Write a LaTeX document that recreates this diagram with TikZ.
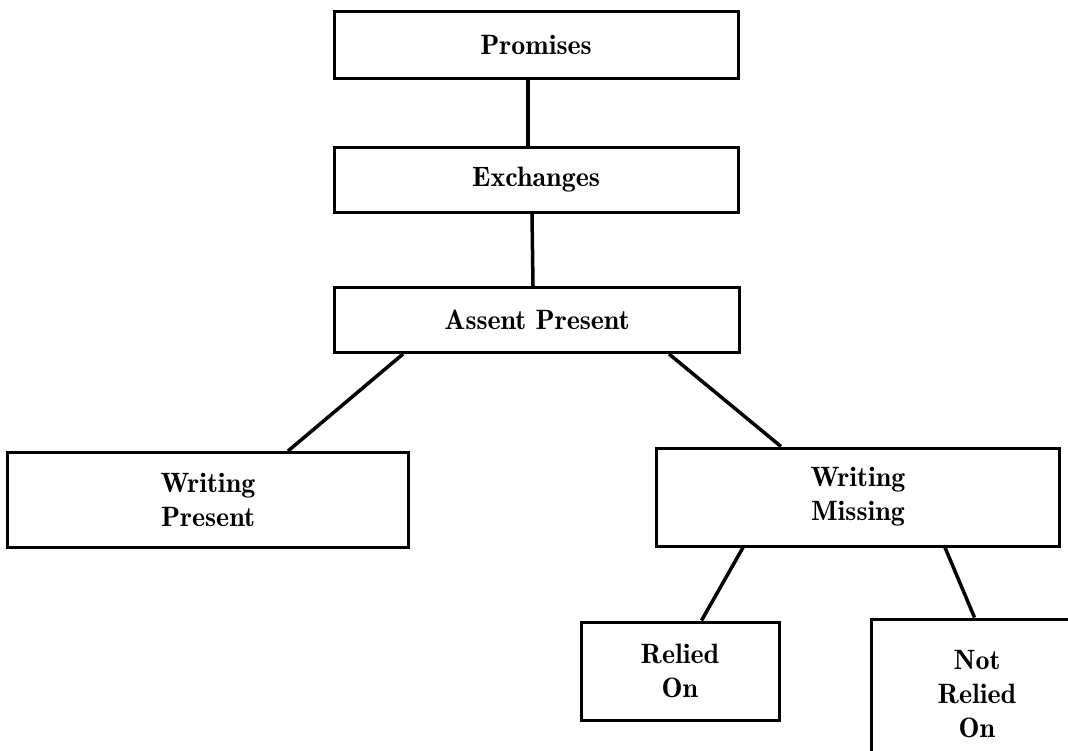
\documentclass[tikz,border=0pt]{standalone}
\usepackage{fontspec}
\newfontfamily\boxfont{lmromandemi10-regular.otf}
\usetikzlibrary{calc}
\begin{document}
\begin{tikzpicture}[x=1pt,y=-1pt,
  box/.style={draw,line width=3pt,rectangle,align=center,inner sep=0pt,
    font=\boxfont\fontsize{28}{34}\selectfont},
  link/.style={line width=3.5pt}]
\useasboundingbox (0,0) rectangle (1068,750);
\clip (0,0) rectangle (1068,750);

% upper chain
\node[box,minimum width=404pt,minimum height=67pt] (prom) at (536,45) {Promises};
\node[box,minimum width=404pt,minimum height=65pt] (exch) at (536,180) {Exchanges};
\node[box,minimum width=405pt,minimum height=65pt] (asnt) at (537,320) {Assent Present};

% second level
\node[box,minimum width=401pt,minimum height=95pt] (wpre) at (208,500) {Writing\\Present};
\node[box,minimum width=403pt,minimum height=98pt] (wmis) at (858,497) {Writing\\Missing};

% third level
\node[box,minimum width=198pt,minimum height=98pt] (rel) at (680,671) {Relied\\On};
\node[box,minimum width=212pt,minimum height=150pt] (nrel) at (977,694) {Not\\Relied\\On};

% connectors
\draw[link] ($(prom.south)+(-8,0)$) -- ($(exch.north)+(-8,0)$);
\draw[link] ($(exch.south)+(-4,0)$) -- ($(asnt.north)+(-4,0)$);
\draw[link] ($(asnt.south west)+(70,0)$) -- ($(wpre.north east)+(-122,0)$);
\draw[link] ($(asnt.south east)+(-72,0)$) -- ($(wmis.north west)+(126,0)$);
\draw[link] ($(wmis.south west)+(88,0)$) -- ($(rel.north west)+(122,0)$);
\draw[link] ($(wmis.south east)+(-116,0)$) -- ($(nrel.north west)+(105,0)$);
\end{tikzpicture}
\end{document}
